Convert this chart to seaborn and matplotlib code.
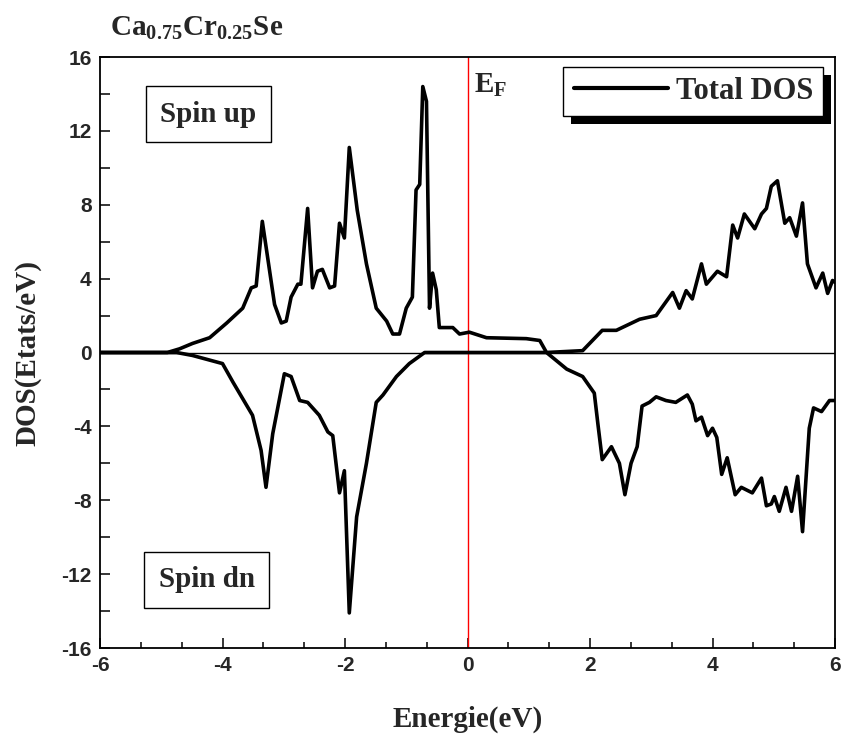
import matplotlib
matplotlib.use("Agg")
import matplotlib.pyplot as plt
import seaborn as sns
import pandas as pd
from matplotlib.patches import Rectangle
from matplotlib.ticker import MultipleLocator

# ---- data ----
energy_up = [-6.0, -4.9, -4.7, -4.49, -4.21, -3.93, -3.67, -3.53, -3.45, -3.35, -3.23, -3.15,
             -3.04, -2.96, -2.88, -2.77, -2.72, -2.61, -2.53, -2.45, -2.37, -2.25, -2.17,
             -2.09, -2.01, -1.93, -1.80, -1.65, -1.49, -1.32, -1.22, -1.11, -1.0, -0.9,
             -0.84, -0.78, -0.73, -0.67, -0.62, -0.57, -0.51, -0.46, -0.24, -0.13, 0.03,
             0.31, 0.96, 1.18, 1.29, 1.88, 2.2, 2.43, 2.81, 3.08, 3.35, 3.46, 3.57, 3.67,
             3.82, 3.90, 4.08, 4.23, 4.33, 4.41, 4.52, 4.69, 4.80, 4.88, 4.96, 5.06, 5.18,
             5.26, 5.37, 5.47, 5.55, 5.69, 5.80, 5.88, 5.96, 6.0]
dos_up = [0.0, 0.0, 0.2, 0.49, 0.8, 1.6, 2.4, 3.5, 3.6, 7.1, 4.4, 2.6,
          1.6, 1.7, 3.0, 3.7, 3.7, 7.8, 3.5, 4.4, 4.5, 3.5, 3.6,
          7.0, 6.2, 11.1, 7.7, 4.8, 2.4, 1.7, 1.0, 1.0, 2.4, 3.0,
          8.8, 9.1, 14.4, 13.6, 2.4, 4.3, 3.4, 1.35, 1.35, 1.0, 1.1,
          0.8, 0.75, 0.65, 0.0, 0.1, 1.2, 1.2, 1.8, 2.0, 3.25, 2.4, 3.35, 2.9,
          4.8, 3.7, 4.4, 4.1, 6.9, 6.2, 7.5, 6.7, 7.5, 7.8, 9.0, 9.3, 7.0,
          7.3, 6.3, 8.1, 4.8, 3.5, 4.3, 3.2, 3.9, 3.8]

energy_dn = [-6.0, -4.75, -4.49, -4.0, -3.83, -3.67, -3.51, -3.37, -3.29, -3.18, -2.99,
             -2.88, -2.74, -2.61, -2.42, -2.28, -2.20, -2.09, -2.01, -1.93, -1.81, -1.65,
             -1.49, -1.38, -1.16, -0.95, -0.70, 1.29, 1.62, 1.88, 2.07, 2.13, 2.2, 2.35,
             2.48, 2.57, 2.67, 2.77, 2.85, 2.97, 3.08, 3.24, 3.40, 3.59, 3.67, 3.73, 3.82,
             3.92, 4.0, 4.07, 4.15, 4.24, 4.37, 4.47, 4.65, 4.80, 4.88, 4.96, 5.01, 5.09,
             5.2, 5.29, 5.39, 5.47, 5.58, 5.65, 5.78, 5.91, 6.0]
dos_dn = [0.0, 0.0, -0.16, -0.6, -1.6, -2.5, -3.4, -5.3, -7.3, -4.4, -1.15,
          -1.3, -2.6, -2.7, -3.4, -4.3, -4.5, -7.6, -6.4, -14.1, -8.9, -6.0,
          -2.7, -2.3, -1.3, -0.6, 0.0, 0.0, -0.9, -1.3, -2.2, -3.9, -5.8, -5.1,
          -6.0, -7.7, -6.0, -5.1, -2.9, -2.7, -2.4, -2.6, -2.7, -2.3, -2.8, -3.7, -3.5,
          -4.5, -4.1, -4.6, -6.6, -5.7, -7.7, -7.3, -7.6, -6.8, -8.3, -8.2, -7.8, -8.6,
          -7.3, -8.6, -6.7, -9.7, -4.1, -3.0, -3.2, -2.6, -2.6]

x_ticks = [-6, -4, -2, 0, 2, 4, 6]
y_ticks = [-16, -12, -8, -4, 0, 4, 8, 12, 16]

df_up = pd.DataFrame({"Energie": energy_up, "DOS": dos_up})
df_dn = pd.DataFrame({"Energie": energy_dn, "DOS": dos_dn})

sns.set_style("ticks")
plt.rcParams["font.family"] = ["Liberation Serif", "DejaVu Serif"]
plt.rcParams["mathtext.fontset"] = "custom"
plt.rcParams["mathtext.rm"] = "Liberation Serif"
plt.rcParams["mathtext.bf"] = "Liberation Serif:bold"
plt.rcParams["mathtext.it"] = "Liberation Serif:italic"

W, H = 844, 740
fig = plt.figure(figsize=(W / 100, H / 100), dpi=100)
L, R, T, B = 100, 835, 57, 648
ax = fig.add_axes([L / W, 1 - B / H, (R - L) / W, (B - T) / H])

sns.lineplot(data=df_up, x="Energie", y="DOS", ax=ax, color="black", lw=2.6,
             label="Total DOS", sort=False, estimator=None)
sns.lineplot(data=df_dn, x="Energie", y="DOS", ax=ax, color="black", lw=2.6,
             legend=False, sort=False, estimator=None)

ax.axhline(0, color="black", lw=1.0, zorder=1)
ax.axvline(0, color="red", lw=1.0, zorder=1)

ax.set_xlim(-6, 6)
ax.set_ylim(-16, 16)
ax.set_xticks(x_ticks)
ax.set_yticks(y_ticks)
ax.set_xticklabels([str(t) for t in x_ticks])
ax.set_yticklabels([str(t) for t in y_ticks])
ax.xaxis.set_minor_locator(MultipleLocator(2 / 3))
ax.yaxis.set_minor_locator(MultipleLocator(2))
ax.tick_params(axis="both", which="major", direction="in", length=7, width=1.3,
               top=False, right=False, pad=6)
ax.tick_params(axis="x", which="minor", direction="in", length=4, width=1.3,
               top=False, right=False)
ax.tick_params(axis="y", which="minor", direction="in", length=7, width=1.3,
               left=True, right=False)
for lab in ax.get_xticklabels() + ax.get_yticklabels():
    lab.set_family(["Liberation Sans", "DejaVu Sans"])
    lab.set_fontweight("bold")
    lab.set_fontsize(15)
for sp in ax.spines.values():
    sp.set_linewidth(1.3)
    sp.set_color("black")

ax.set_xlabel("Energie(eV)", fontsize=21, fontweight="bold", labelpad=22)
ax.set_ylabel("DOS(Etats/eV)", fontsize=21, fontweight="bold", labelpad=14)

fig.text(110 / W, 1 - 28 / H, r"$\mathbf{Ca_{0.75}Cr_{0.25}Se}$", fontsize=21,
         ha="left", va="center")

ax.text(0.1, 15.2, r"$\mathbf{E_F}$", fontsize=21, ha="left", va="top")

box = dict(boxstyle="square,pad=0.5", fc="white", ec="black", lw=1.0)
ax.text(-4.23, 12.9, "Spin up", fontsize=21, fontweight="bold", ha="center",
        va="center", bbox=box)
ax.text(-4.26, -12.3, "Spin dn", fontsize=21, fontweight="bold", ha="center",
        va="center", bbox=box)

leg = ax.legend(loc="upper right", bbox_to_anchor=(0.984, 0.983), borderaxespad=0,
                fancybox=False, frameon=True, edgecolor="black", framealpha=1,
                prop={"family": "Liberation Serif", "weight": "bold", "size": 22},
                handlelength=3.1, handletextpad=0.25, borderpad=0.33)
leg.get_frame().set_linewidth(1.0)
for h in leg.get_lines():
    h.set_linewidth(3.0)
leg.set_zorder(5)

fig.canvas.draw()
bb = leg.get_window_extent().transformed(ax.transAxes.inverted())
dx = 8 / (R - L)
dy = 8 / (B - T)
ax.add_patch(Rectangle((bb.x0 + dx, bb.y0 - dy), bb.width, bb.height,
                       transform=ax.transAxes, facecolor="black", edgecolor="none",
                       zorder=4, clip_on=False))

fig.savefig("out.png", dpi=100)
